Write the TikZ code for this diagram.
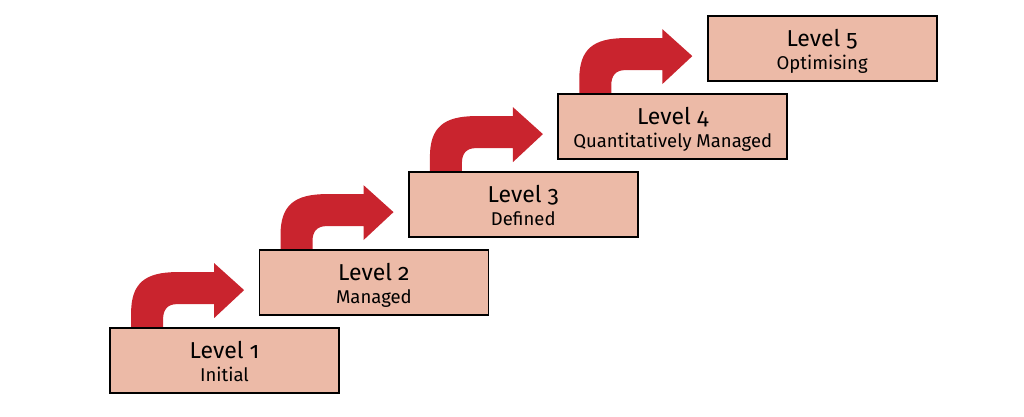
\documentclass[tikz,border=0pt]{standalone}
\usepackage{fontspec}
\setmainfont{Fira Sans}[Numbers=OldStyle]
\usetikzlibrary{calc,backgrounds}
\definecolor{boxfill}{RGB}{236,186,167}
\definecolor{arrowred}{RGB}{201,36,46}
\tikzset{
  levelbox/.style={rectangle, draw=black, line width=1.8pt, fill=boxfill,
    minimum width=229pt, minimum height=65pt, inner sep=0pt},
  leveltitle/.style={font=\fontsize{23}{27}\selectfont, anchor=base, inner sep=0pt},
  levelname/.style={font=\fontsize{18.5}{22}\selectfont, anchor=base, inner sep=0pt},
  stepbend/.style={fill=arrowred}
}

\begin{document}
\begin{tikzpicture}[x=1pt,y=-1pt]
\useasboundingbox (0,0) rectangle (1024,416);
% the five level boxes
\foreach \i/\name [evaluate=\i as \cx using 224.5+(\i-1)*149.4,
                   evaluate=\i as \cy using 360.5-(\i-1)*78]
    in {1/Initial,2/Managed,3/Defined,4/Quantitatively Managed,5/Optimising} {
  \node[levelbox] (l\i) at (\cx,\cy) {};
  \node[leveltitle] (t\i) at ($(l\i.north)+(0,31)$) {Level \i};
  \node[levelname] (n\i) at ($(l\i.north)+(0,54)$) {\name};
}
% bent arrows up to the next level
\begin{scope}[on background layer]
\foreach \i in {1,...,4} {
  \begin{scope}[shift={(l\i.north west)}]
    \fill[stepbend] (22,2) -- (22,-14) .. controls (22,-44) and (36,-55) .. (68,-55)
      -- (105,-55) -- (105,-64) -- (135,-37) -- (105,-9) -- (105,-23)
      -- (68,-23) .. controls (58,-23) and (54,-17) .. (54,-8) -- (54,2) -- cycle;
  \end{scope}
}
\end{scope}
\end{tikzpicture}
\end{document}
